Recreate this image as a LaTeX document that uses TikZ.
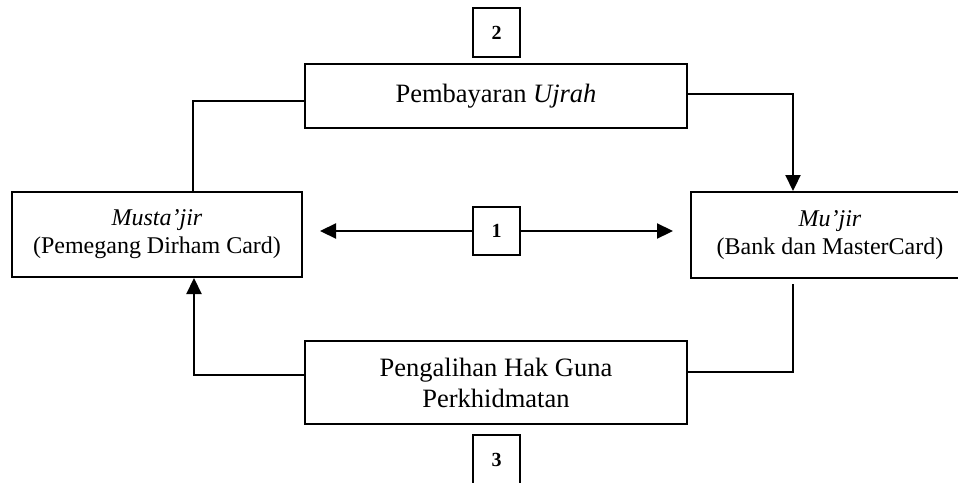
\documentclass[tikz,border=0pt]{standalone}
\usepackage{fontspec}
\setmainfont{Liberation Serif}
\usetikzlibrary{arrows.meta,calc}

\begin{document}
\begin{tikzpicture}[x=1pt,y=-1pt,
  box/.style={draw=black,line width=2pt,fill=white,inner sep=0pt,align=center},
  partybox/.style={box,font=\fontsize{24}{28}\selectfont},
  flowbox/.style={box,minimum width=382pt,font=\fontsize{26.5}{31}\selectfont},
  numbox/.style={box,minimum width=47pt,minimum height=48pt,font=\fontsize{20}{24}\selectfont\bfseries},
  conn/.style={line width=2.2pt,black},
  arrowconn/.style={conn,-{Triangle[length=16pt,width=15pt]}},
  twoway/.style={conn,{Triangle[length=16pt,width=15pt]}-{Triangle[length=16pt,width=15pt]}}]

  \clip (0,0) rectangle (958,482);
  \fill[white] (0,0) rectangle (958,482);

  % the two parties
  \node[partybox,minimum width=290pt,minimum height=85pt] (mustajir) at (157,234.5)
    {\textit{Musta’jir}\\(Pemegang Dirham Card)};
  \node[partybox,minimum width=278pt,minimum height=86pt] (mujir) at (830,235)
    {\textit{Mu’jir}\\(Bank dan MasterCard)};

  % what passes between them
  \node[flowbox,minimum height=64pt] (pay) at (496,96) {Pembayaran \textit{Ujrah}};
  \node[flowbox,minimum height=83pt] (transfer) at (496,382.5)
    {Pengalihan Hak Guna\\Perkhidmatan};

  % connectors
  \draw[conn] ([yshift=-5pt]pay.west) -| ([xshift=36pt]mustajir.north);
  \draw[arrowconn] ([yshift=2pt]pay.east) -| ([xshift=-37pt]mujir.north);
  \draw[conn] ([xshift=-37pt,yshift=-5pt]mujir.south) |- ([yshift=10.5pt]transfer.east);
  \draw[arrowconn] ([yshift=7.5pt]transfer.west) -| ([xshift=37pt]mustajir.south);

  % step numbers
  \node[numbox] (n1) at (496.5,231) {1};
  \coordinate (lend) at ($(mustajir.east)+(17pt,0)$);
  \coordinate (rend) at ($(mujir.west)+(-17pt,0)$);
  \draw[twoway] (lend |- n1) -- (rend |- n1);
  \node[numbox] at (n1) {1};
  \node[numbox,minimum height=49pt] (n2) at (496.5,32.5) {2};
  \node[numbox,minimum height=49pt] (n3) at (496.5,459.5) {3};
\end{tikzpicture}
\end{document}
